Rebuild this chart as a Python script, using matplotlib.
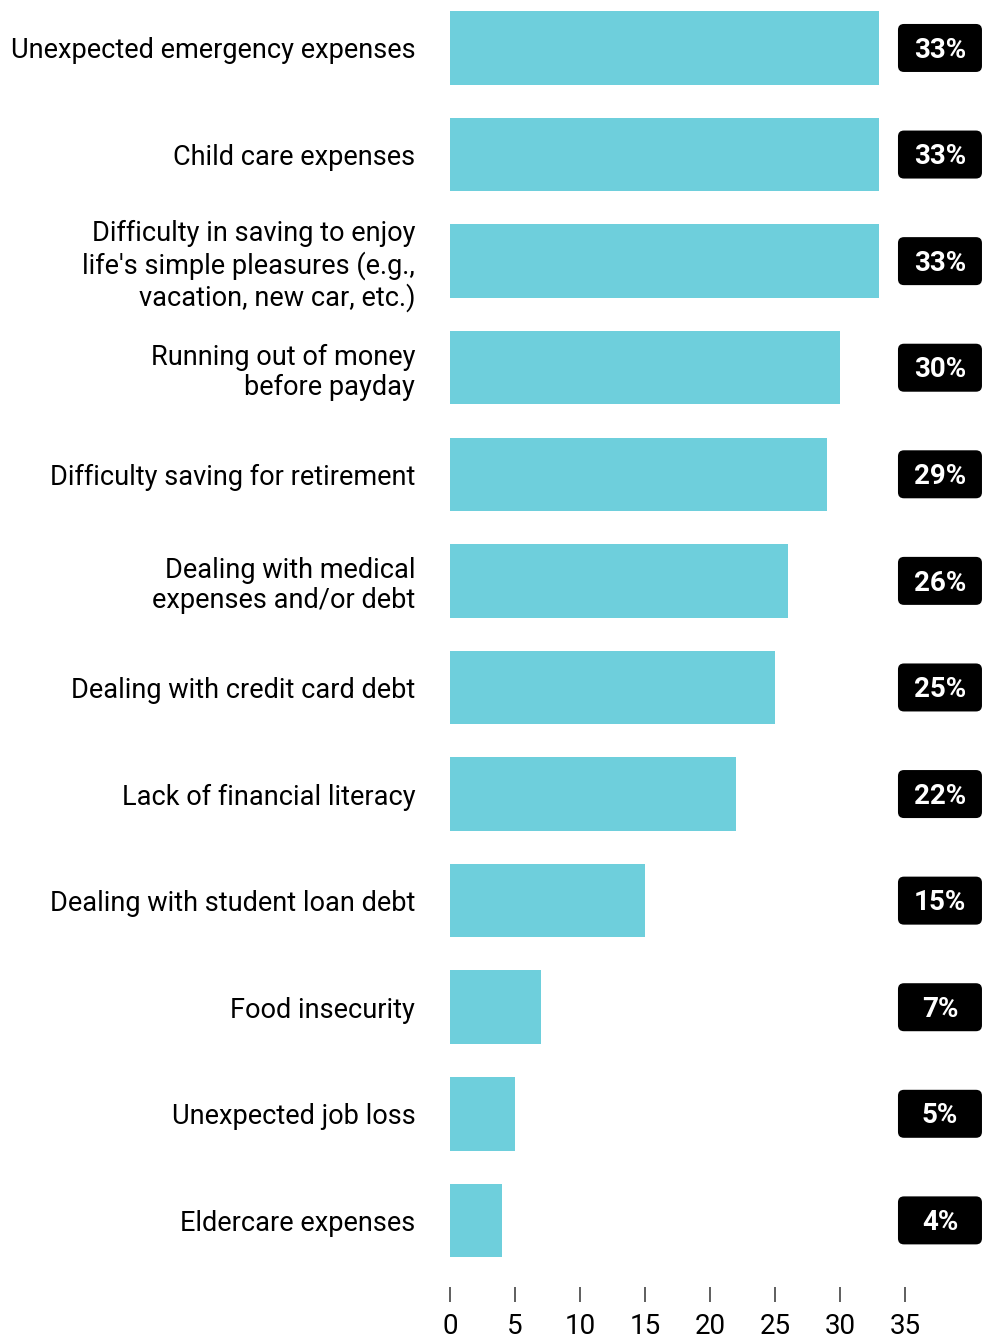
import matplotlib.pyplot as plt
from matplotlib.patches import FancyBboxPatch
from matplotlib import transforms

plt.rcParams['font.family'] = ['Roboto', 'DejaVu Sans']

# survey answers, top to bottom
categories = [
    "Unexpected emergency expenses",
    "Child care expenses",
    "Difficulty in saving to enjoy\nlife's simple pleasures (e.g.,\nvacation, new car, etc.)",
    "Running out of money\nbefore payday",
    "Difficulty saving for retirement",
    "Dealing with medical\nexpenses and/or debt",
    "Dealing with credit card debt",
    "Lack of financial literacy",
    "Dealing with student loan debt",
    "Food insecurity",
    "Unexpected job loss",
    "Eldercare expenses",
]
values = [33, 33, 33, 30, 29, 26, 25, 22, 15, 7, 5, 4]
x_ticks = [0, 5, 10, 15, 20, 25, 30, 35]

W, H, DPI = 982, 1340, 100
fig = plt.figure(figsize=(W / DPI, H / DPI), dpi=DPI)
ax = fig.add_axes([450 / W, (H - 1287) / H, (905 - 450) / W, 1287 / H])

pos = list(range(len(categories)))
ax.barh(pos, values, height=0.69, color='#6ecfdc')

ax.set_xlim(0, 35)
ax.set_ylim(11.625, -0.45)
ax.set_xticks(x_ticks)
ax.set_xticklabels([str(t) for t in x_ticks], fontsize=20)
ax.set_yticks(pos)
ax.set_yticklabels(categories, fontsize=19.5, linespacing=1.17)
ax.tick_params(axis='y', length=0, pad=25)
ax.tick_params(axis='x', length=10.8, width=1.1, color='#333333', pad=8)
for s in ax.spines.values():
    s.set_visible(False)

# value badges to the right of the bars
for i, v in zip(pos, values):
    trans = fig.dpi_scale_trans + transforms.ScaledTranslation(37.69, i, ax.transData)
    box = FancyBboxPatch((-0.42, -0.24), 0.84, 0.48,
                         boxstyle='round,pad=0,rounding_size=0.06',
                         facecolor='black', edgecolor='none',
                         transform=trans, clip_on=False)
    ax.add_patch(box)
    ax.text(37.69, i + 0.02, f"{v}%", color='white', fontsize=20, fontweight='bold',
            ha='center', va='center', clip_on=False)

fig.savefig('out.png', dpi=DPI)
